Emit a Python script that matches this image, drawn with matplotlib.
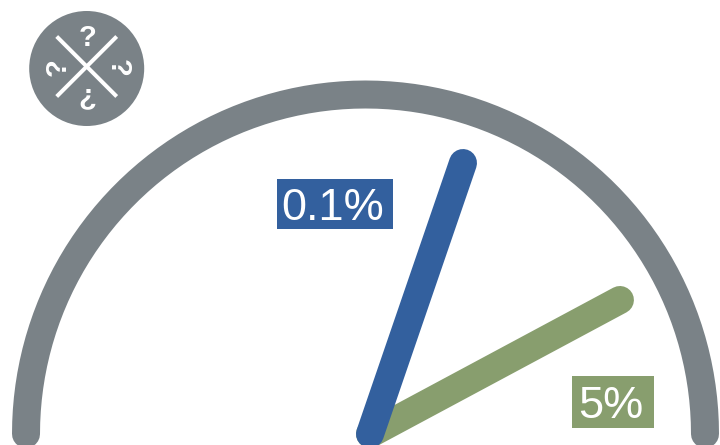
import numpy as np
import matplotlib
matplotlib.use('Agg')
import matplotlib.pyplot as plt

gauge_angle_start = 0
gauge_angle_end = 180
needle_labels = ['5%', '0.1%']
needle_angles = [28.2, 71.06]
needle_lengths = [283.6, 286.5]
needle_colors = ['#889e6e', '#33609e']
gauge_color = '#7a8287'
badge_marks = ['?', '?', '¿', '?']
badge_angles = [90, 0, 270, 180]
badge_rot = [0, -90, 0, 90]

plt.rcParams['font.family'] = ['Liberation Sans', 'DejaVu Sans']
fig = plt.figure(figsize=(7.2, 4.45), dpi=100)
ax = fig.add_axes([0, 0, 1, 1])
ax.set_xlim(0, 720)
ax.set_ylim(445, 0)
ax.axis('off')
pt = 0.72

cx, cy, r = 365.5, 434, 339.5
th = np.radians(np.arange(gauge_angle_start, gauge_angle_end + 1))
ax.plot(cx + r * np.cos(th), cy - r * np.sin(th), color=gauge_color, lw=28 * pt, solid_capstyle='round')

nx, ny = 370, 434
for a, l, c in zip(needle_angles, needle_lengths, needle_colors):
    t = np.radians(a)
    ax.plot([nx, nx + l * np.cos(t)], [ny, ny - l * np.sin(t)], color=c, lw=28 * pt, solid_capstyle='round')

boxes = [(572, 376, 82, 52), (277, 179, 116, 50)]
for lab, c, (x, y, w, h) in zip(needle_labels, needle_colors, boxes):
    ax.add_patch(plt.Rectangle((x, y), w, h, fc=c, ec='none', zorder=3))
    ax.text(x + w / 2 - 2.5, y + h / 2 + 4, lab, color='white', fontsize=32.5, ha='center', va='center', zorder=4)

bx, by = 86.7, 68.5
ax.add_patch(plt.Circle((bx, by), 57.5, color=gauge_color, lw=0))
d = 30
for s in (1, -1):
    ax.plot([bx - d, bx + d], [by - 2 - s * d, by - 2 + s * d], color='white', lw=4 * pt, solid_capstyle='butt')
for m, a, rot in zip(badge_marks, badge_angles, badge_rot):
    t = np.radians(a)
    ax.text(bx + 1 + 30 * np.cos(t), by - 1 - 29 * np.sin(t), m, color='white', fontsize=21, fontweight='bold',
            ha='center', va='center', rotation=rot)
fig.savefig('out.png', dpi=100)
